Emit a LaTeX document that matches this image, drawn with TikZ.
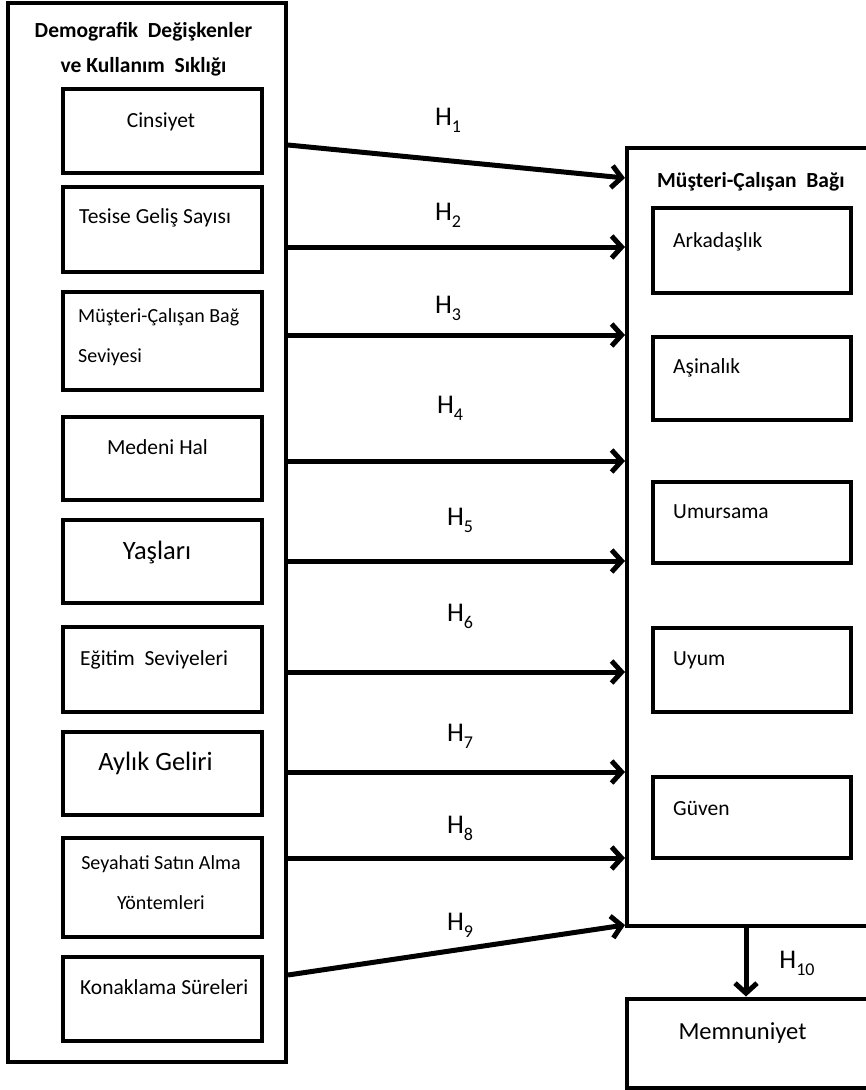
\documentclass[tikz,border=0pt]{standalone}
\usepackage{fontspec}
\setmainfont{Carlito}
\usepackage{xcolor}
\usepackage{tikz}
\usetikzlibrary{positioning,arrows.meta}
\definecolor{mInk}{HTML}{000000}
\newcommand{\hlab}[1]{H\raisebox{-0.55ex}{\fontsize{18}{18}\selectfont #1}}

\begin{document}
\begin{tikzpicture}[x=1pt, y=-1pt,
  obox/.style={draw=mInk, line width=4pt, inner sep=0pt},
  ibox/.style={draw=mInk, line width=4.5pt, inner sep=0pt, minimum width=199pt},
  rbox/.style={draw=mInk, line width=4.5pt, inner sep=0pt, minimum width=198pt},
  txt/.style={inner sep=0pt, font=\fontsize{21.5}{26}\selectfont},
  big/.style={inner sep=0pt, font=\fontsize{26.5}{30}\selectfont},
  ttl/.style={inner sep=0pt, font=\fontsize{21.5}{35}\selectfont\bfseries, align=center},
  hyp/.style={-{Straight Barb[length=10pt,width=22pt]}, draw=mInk, line width=5pt},
  hlb/.style={inner sep=0pt, font=\fontsize{27}{30}\selectfont}]
\useasboundingbox (0,0) rectangle (866,1090);
\node[obox, minimum width=278pt, minimum height=1059pt] (demo) at (147,532.5) {};
\node[obox, minimum width=243pt, minimum height=778pt] (bag) at (748.5,537) {};
\node[obox, minimum width=243pt, minimum height=89pt] (memn) at (748.5,1043) {};
\foreach \nm/\yc/\ht in {cins/131/84, tes/229.5/85, mcb/341/98, med/458.5/83, yas/561.5/83,
    egi/669.5/85, ayl/773.5/83, sey/887.5/99, kon/999/84}
  \node[ibox, minimum height=\ht pt] (\nm) at (162.5,\yc) {};
\foreach \nm/\yc/\ht in {ark/250.5/85, asi/378.5/83, umu/522.5/81, uyu/670/84, guv/817.5/81}
  \node[rbox, minimum height=\ht pt] (\nm) at (752,\yc) {};
\node[ttl] (demot) at (143.5,49) {Demografik\ \ Değişkenler\\ve Kullanım\ \ Sıklığı};
\node[ttl, anchor=west] (bagt) at (657,182) {Müşteri-Çalışan\ \ Bağı};
\node[txt] (cinst) at (161,122) {Cinsiyet};
\node[txt, anchor=west] (test) at (79,218) {Tesise Geliş Sayısı};
\node[txt, anchor=west, align=left, font=\fontsize{20}{40}\selectfont] (mcbt) at (78,337) {Müşteri-Çalışan Bağ\\Seviyesi};
\node[txt] (medt) at (157.5,447) {Medeni Hal};
\node[big] (yast) at (157,553) {Yaşları};
\node[txt, anchor=west] (egit) at (80,660) {Eğitim\ \ Seviyeleri};
\node[big] (aylt) at (155.5,763) {Aylık Geliri};
\node[txt, align=center, font=\fontsize{20}{40}\selectfont] (seyt) at (161,883) {Seyahati Satın Alma\\Yöntemleri};
\node[txt, anchor=west] (kont) at (80,987) {Konaklama Süreleri};
\node[txt, anchor=west] (arkt) at (673,242) {Arkadaşlık};
\node[txt, anchor=west] (asit) at (673,368) {Aşinalık};
\node[txt, anchor=west] (umut) at (673,512) {Umursama};
\node[txt, anchor=west] (uyut) at (673,660) {Uyum};
\node[txt, anchor=west] (guvt) at (673,808) {Güven};
\node[txt, font=\fontsize{24.5}{28}\selectfont] (memnt) at (742.5,1033) {Memnuniyet};
\foreach \i/\ya/\yb/\lx/\ly in {1/145/178/448/120, 2/247/247/448/215, 3/335/335/448/308,
    4/461/461/450/408, 5/561/561/460/520, 6/672/672/460/616, 7/772/772/460/736,
    8/858/858/460/828, 9/975/925/460/925} {
  \draw[hyp] (demo.east |- 0,\ya) -- (bag.west |- 0,\yb);
  \node[hlb] (h\i) at (\lx,\ly) {\hlab{\i}};
}
\draw[hyp] (bag.south -| 746,0) -- (memn.north -| 746,0);
\node[hlb] (h10) at (797,963) {\hlab{10}};
\end{tikzpicture}
\end{document}
